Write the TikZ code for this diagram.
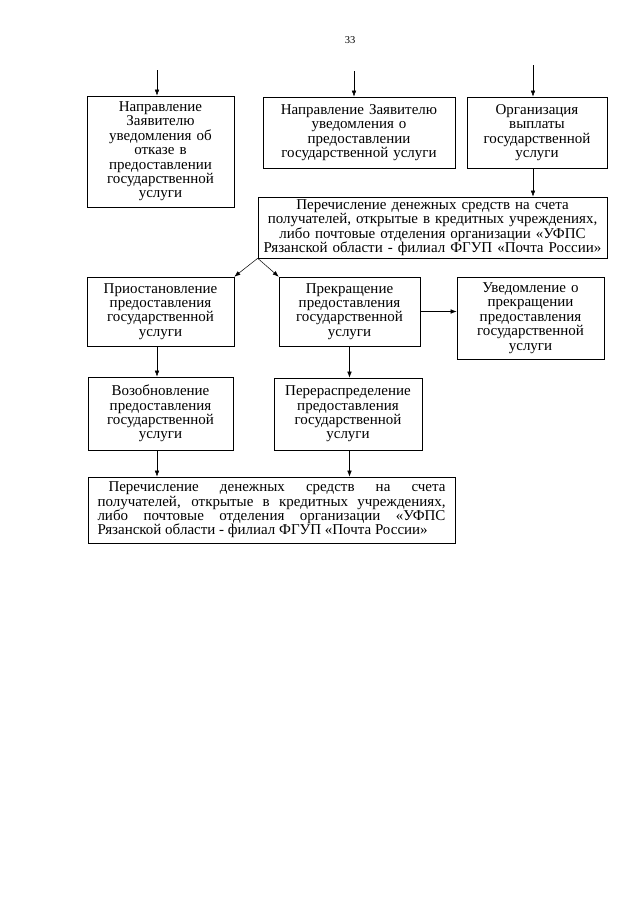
\documentclass[tikz,border=0pt]{standalone}
\usepackage{fontspec}
\setmainfont{Liberation Serif}
\usetikzlibrary{arrows.meta}
\begin{document}
\begin{tikzpicture}[x=1pt,y=-1pt,
  box/.style={draw, line width=0.6pt, inner sep=0pt, align=center,
    font=\fontsize{15}{14.4}\selectfont},
  arr/.style={-{Latex[length=6pt,width=4.5pt]}, line width=0.5pt},
  ln/.style={line width=0.5pt}]
\useasboundingbox (0,0) rectangle (640,905);
\hyphenpenalty=10000
\node[font=\fontsize{10.5}{12}\selectfont] (pg) at (350,40) {33};

\node[box, text width=143pt, minimum width=147pt, minimum height=111pt] (b1) at (160.5,151.5)
  {Направление\\Заявителю\\уведомления об\\отказе в\\предоставлении\\государственной\\услуги};
\node[box, text width=188pt, minimum width=192pt, minimum height=71pt] (b2) at (359,132.5)
  {Направление Заявителю\\уведомления о\\предоставлении\\государственной услуги};
\node[box, text width=136pt, minimum width=140pt, minimum height=71pt] (b3) at (537,132.5)
  {Организация\\выплаты\\государственной\\услуги};
\node[box, text width=345pt, minimum width=349pt, minimum height=61pt] (b4) at (432.5,227.5)
  {Перечисление денежных средств на счета\\получателей, открытые в кредитных учреждениях,\\либо почтовые отделения организации «УФПС\\Рязанской области - филиал ФГУП «Почта России»};
\node[box, text width=143pt, minimum width=147pt, minimum height=69pt] (b5) at (160.5,311.5)
  {Приостановление\\предоставления\\государственной\\услуги};
\node[box, text width=137pt, minimum width=141pt, minimum height=69pt] (b6) at (349.5,311.5)
  {Прекращение\\предоставления\\государственной\\услуги};
\node[box, text width=143pt, minimum width=147pt, minimum height=82pt] (b7) at (530.5,318)
  {Уведомление о\\прекращении\\предоставления\\государственной\\услуги};
\node[box, text width=141pt, minimum width=145pt, minimum height=73pt] (b8) at (160.5,413.5)
  {Возобновление\\предоставления\\государственной\\услуги};
\node[box, text width=144pt, minimum width=148pt, minimum height=72pt] (b9) at (348,414)
  {Перераспределение\\предоставления\\государственной\\услуги};
\node[box, align=justify, text width=348pt, minimum width=367pt, minimum height=66pt] (b10) at (271.5,510)
  {\hspace*{11pt}Перечисление денежных средств на счета\linebreak
   получателей, открытые в кредитных учреждениях,\linebreak
   либо почтовые отделения организации «УФПС\linebreak
   Рязанской области - филиал ФГУП «Почта России»};

\coordinate (s1) at (157,70);
\coordinate (s2) at (354,71);
\coordinate (s3) at (533,65);
\draw[arr] (s1) -- (s1 |- b1.north);
\draw[arr] (s2) -- (s2 |- b2.north);
\draw[arr] (s3) -- (s3 |- b3.north);
\draw[arr] (s3 |- b3.south) -- (s3 |- b4.north);
\draw[arr] (b4.south west) -- (b5.north east);
\draw[arr] (b4.south west) -- (b6.north west);
\draw[arr] (b6.east) -- (b6.east -| b7.west);
\coordinate (c1) at (157,0);
\draw[arr] (c1 |- b5.south) -- (c1 |- b8.north);
\draw[arr] (b6.south) -- (b6.south |- b9.north);
\draw[arr] (c1 |- b8.south) -- (c1 |- b10.north);
\draw[arr] (b6.south |- b9.south) -- (b6.south |- b10.north);
\end{tikzpicture}
\end{document}
